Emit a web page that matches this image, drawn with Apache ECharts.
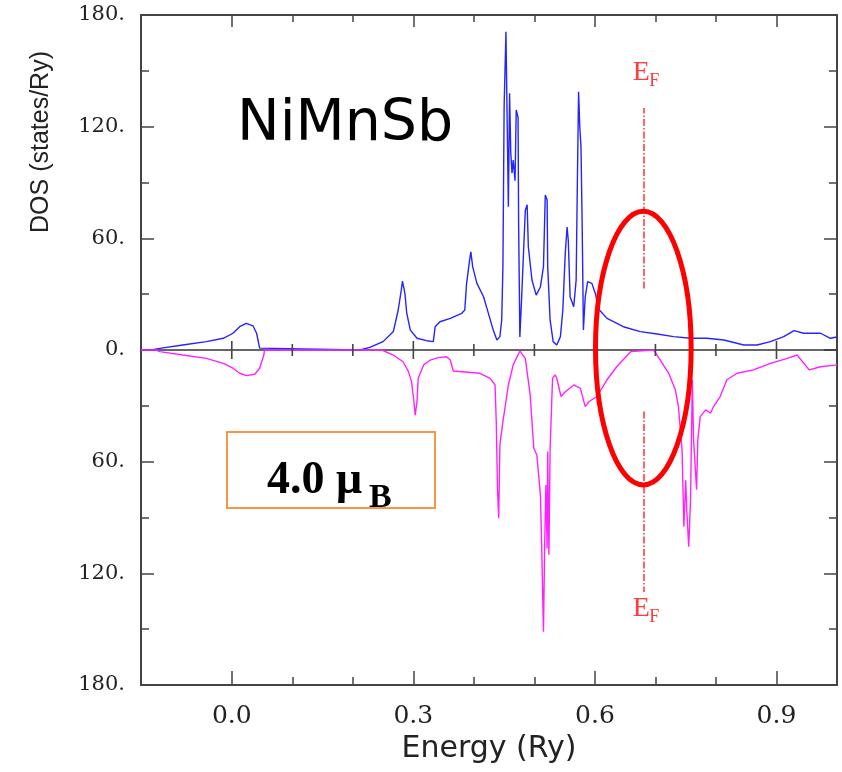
<!DOCTYPE html>
<html>
<head>
<meta charset="utf-8">
<script src="https://cdn.jsdelivr.net/npm/echarts@6/dist/echarts.min.js"></script>
<style>
html,body{margin:0;padding:0;background:#fff;}
#c{width:842px;height:772px;}
</style>
</head>
<body>
<div id="c"></div>
<script>
// ---- data ----
const energyUp = [-0.15,-0.133,-0.119,-0.081,-0.042,-0.014,0.002,0.013,0.024,0.035,0.041,0.046,0.049,0.212,0.228,0.25,0.267,0.275,0.280,0.282,0.286,0.289,0.295,0.306,0.322,0.333,0.336,0.344,0.361,0.380,0.385,0.388,0.393,0.395,0.398,0.405,0.416,0.424,0.432,0.438,0.443,0.446,0.448,0.450,0.453,0.455,0.457,0.459,0.461,0.463,0.465,0.468,0.470,0.473,0.474,0.476,0.479,0.482,0.485,0.488,0.490,0.496,0.503,0.510,0.515,0.518,0.521,0.522,0.526,0.531,0.537,0.543,0.547,0.551,0.554,0.556,0.559,0.565,0.569,0.571,0.573,0.575,0.577,0.579,0.581,0.584,0.588,0.595,0.601,0.606,0.62,0.647,0.675,0.703,0.730,0.758,0.785,0.813,0.846,0.868,0.89,0.912,0.929,0.945,0.973,0.989,1.0];
const dosUp = [0,0,0.9,2.7,4.5,6.3,9,12.5,14.3,13,9,1,0,0,1.4,4.5,10,21.5,32,37,30.6,20,10.7,6.3,5,4.5,12.5,15.2,17,19.7,21.5,35.8,48.4,52.8,44.8,35.8,28.6,19.7,10.7,5.4,7.2,16,44.8,130.7,171,123.6,77,138,105.7,95,102,91,129,125,66,7,28.6,52,75,78,55.5,37.6,29.5,34,44.8,83.3,80.6,44.8,16,4.5,2.7,7.2,21.5,52,66,59,28.6,23.3,37.6,89.6,138.8,120,109,66,10.7,28.6,36.7,35.8,30,22,17,12.5,9.9,8.6,7.2,6.3,6.3,5.4,2.7,2.7,4.5,7.2,10.4,9,9,6.3,7];
const energyDown = [-0.15,-0.125,-0.119,-0.081,-0.042,-0.014,0.002,0.013,0.024,0.038,0.046,0.053,0.054,0.248,0.267,0.283,0.292,0.297,0.301,0.303,0.306,0.308,0.317,0.328,0.341,0.355,0.361,0.366,0.41,0.427,0.435,0.437,0.439,0.441,0.443,0.448,0.457,0.465,0.476,0.479,0.485,0.493,0.499,0.504,0.510,0.512,0.515,0.517,0.519,0.521,0.522,0.524,0.526,0.530,0.534,0.537,0.544,0.551,0.565,0.576,0.584,0.59,0.603,0.62,0.636,0.659,0.662,0.697,0.708,0.722,0.733,0.738,0.744,0.747,0.750,0.752,0.755,0.758,0.761,0.763,0.768,0.770,0.774,0.783,0.791,0.796,0.807,0.818,0.835,0.862,0.890,0.918,0.934,0.954,0.973,1.0];
const dosDown = [0,0,-0.9,-2.7,-4.5,-7.2,-9.8,-12.5,-13.8,-13,-9.8,-2.7,0,0,-2.7,-6.3,-11.6,-17,-27.8,-35,-27.8,-15.2,-8,-5.4,-4.1,-3.6,-5.4,-11.3,-12.5,-15.2,-18.8,-38.5,-74.3,-90.4,-51,-38.5,-18.8,-8,-0.5,0,-4.5,-24,-52.8,-56.4,-78,-104.8,-151.4,-104.8,-72.5,-106.6,-54.6,-110,-52.8,-15.2,-13.4,-15.2,-25,-22.4,-18.8,-20.6,-30.4,-27.8,-25,-16,-9,-0.9,0,0,-5.4,-12.5,-21.5,-30.4,-53.7,-95,-70,-87.7,-105.7,-80.6,-16,-48.4,-75,-48.4,-35.8,-32.2,-34,-30.4,-25,-16,-12.5,-10.7,-7.2,-4.5,-2.7,-10.7,-9,-8];
const xMajorTicks = [0, 0.3, 0.6, 0.9];
const xMinorTicks = [0.1, 0.2, 0.4, 0.5, 0.7, 0.8];
const fermiEnergy = 0.68;
const fermiLineUp = [33, 130];
const fermiLineDown = [-33, -130];
const fermiLabelUp = 149;
const fermiLabelDown = -139;

const AX = '#444';
const chart = echarts.init(document.getElementById('c'), null, {renderer: 'canvas'});

function xAx(opts) {
  return Object.assign({
    type: 'value', min: -0.15, max: 1.0, gridIndex: 0,
    splitLine: {show: false},
    axisLine: {show: false, onZero: false},
    axisLabel: {show: false},
    axisTick: {show: false},
    minorTick: {show: false}
  }, opts);
}
const tickStyle = {color: AX, width: 1.5};

const option = {
  animation: false,
  backgroundColor: '#fff',
  grid: {left: 141, right: 5, top: 15, bottom: 87, containLabel: false, outerBoundsMode: 'none'},
  xAxis: [
    xAx({position: 'bottom',
      axisLine: {show: true, onZero: false, lineStyle: {color: AX, width: 2}},
      axisTick: {show: true, inside: true, length: 14, customValues: xMajorTicks.slice(), lineStyle: tickStyle},
      axisLabel: {show: true, customValues: xMajorTicks.slice(), margin: 19, color: '#222',
        fontFamily: 'DejaVu Serif', fontSize: 25, formatter: v => v.toFixed(1)},
      name: 'Energy (Ry)', nameLocation: 'middle', nameGap: 44,
      nameTextStyle: {fontFamily: 'DejaVu Sans', fontSize: 30, color: '#222'}
    }),
    xAx({position: 'bottom',
      axisTick: {show: true, inside: true, length: 8, customValues: xMinorTicks.slice(), lineStyle: tickStyle}}),
    xAx({position: 'top',
      axisLine: {show: true, onZero: false, lineStyle: {color: AX, width: 2}},
      axisTick: {show: true, inside: true, length: 12, customValues: xMajorTicks.slice(), lineStyle: tickStyle}}),
    xAx({position: 'top',
      axisTick: {show: true, inside: true, length: 7, customValues: xMinorTicks.slice(), lineStyle: tickStyle}})
  ],
  yAxis: [
    {type: 'value', position: 'left', min: -180, max: 180, interval: 60,
      splitLine: {show: false},
      axisLine: {show: true, onZero: false, lineStyle: {color: AX, width: 2}},
      axisTick: {show: true, inside: true, length: 13, lineStyle: tickStyle},
      minorTick: {show: true, splitNumber: 2, length: 8, lineStyle: tickStyle},
      axisLabel: {show: true, margin: 16, color: '#222', fontFamily: 'DejaVu Serif', fontSize: 21,
        formatter: v => Math.abs(v) + '.'}
    },
    {type: 'value', position: 'right', min: -180, max: 180, interval: 60,
      splitLine: {show: false},
      axisLine: {show: true, onZero: false, lineStyle: {color: AX, width: 2}},
      axisTick: {show: true, inside: true, length: 13, lineStyle: tickStyle},
      minorTick: {show: true, splitNumber: 2, length: 8, lineStyle: tickStyle},
      axisLabel: {show: false}
    }
  ],
  series: [
    {
      name: 'spin up', type: 'line', xAxisIndex: 0, yAxisIndex: 0,
      showSymbol: false, symbol: 'none',
      lineStyle: {color: '#2424ff', width: 1.4},
      data: energyUp.map((e, i) => [e, dosUp[i]]),
      z: 3
    },
    {
      name: 'spin down', type: 'line', xAxisIndex: 0, yAxisIndex: 0,
      showSymbol: false, symbol: 'none',
      lineStyle: {color: '#ff22ff', width: 1.4},
      data: energyDown.map((e, i) => [e, dosDown[i]]),
      z: 4,
      markLine: {
        silent: true, symbol: ['none', 'none'],
        label: {show: false},
        lineStyle: {color: '#ff3333', width: 1.5, type: [7, 2, 1.5, 2]},
        data: [
          [{coord: [fermiEnergy, fermiLineUp[0]]}, {coord: [fermiEnergy, fermiLineUp[1]]}],
          [{coord: [fermiEnergy, fermiLineDown[0]]}, {coord: [fermiEnergy, fermiLineDown[1]]}]
        ]
      },
      markPoint: {
        silent: true, symbol: 'rect', symbolSize: 1,
        itemStyle: {color: 'rgba(0,0,0,0)'},
        label: {show: true, position: 'inside', color: '#ff3b3b', fontFamily: 'Liberation Serif'},
        data: [
          {coord: [fermiEnergy, fermiLabelUp], label: {formatter: 'E', fontSize: 28, offset: [-2, 0]}},
          {coord: [fermiEnergy, fermiLabelUp], label: {formatter: 'F', fontSize: 18, offset: [11, 9]}},
          {coord: [fermiEnergy, fermiLabelDown], label: {formatter: 'E', fontSize: 28, offset: [-2, 0]}},
          {coord: [fermiEnergy, fermiLabelDown], label: {formatter: 'F', fontSize: 18, offset: [11, 9]}}
        ]
      }
    }
  ]
};
chart.setOption(option);

// annotations, anchored to the axes through convertToPixel
const toPx = p => chart.convertToPixel({xAxisIndex: 0, yAxisIndex: 0}, p);
const c = toPx([fermiEnergy, 1]);
const e1 = toPx([fermiEnergy + 0.079, 74.5]);
const z0a = toPx([-0.15, 0]);
const z0b = toPx([1.0, 0]);
const graphics = [
  {type: 'line', z: 1, silent: true,
    shape: {x1: z0a[0], y1: z0a[1], x2: z0b[0], y2: z0b[1]},
    style: {stroke: '#333', lineWidth: 1.6}}
];
xMajorTicks.forEach(v => {
  const p = toPx([v, 0]);
  graphics.push({type: 'line', z: 60, silent: true,
    shape: {x1: p[0], y1: p[1] - 9, x2: p[0], y2: p[1] + 9},
    style: {stroke: AX, lineWidth: 1.6}});
});
xMinorTicks.forEach(v => {
  const p = toPx([v, 0]);
  graphics.push({type: 'line', z: 60, silent: true,
    shape: {x1: p[0], y1: p[1] - 6, x2: p[0], y2: p[1] + 6},
    style: {stroke: AX, lineWidth: 1.6}});
});
graphics.push(
  {type: 'ellipse', z: 100, silent: true,
    shape: {cx: c[0], cy: c[1], rx: e1[0] - c[0], ry: c[1] - e1[1]},
    style: {fill: null, stroke: '#ff0000', lineWidth: 5}},
  {type: 'text', z: 50, left: 237, top: 97, silent: true,
    style: {text: 'NiMnSb', fontFamily: 'DejaVu Sans', fontSize: 57, fill: '#000'}},
  {type: 'text', z: 50, x: 41, y: 142, rotation: Math.PI / 2, silent: true,
    style: {text: 'DOS (states/Ry)', fontFamily: 'Liberation Sans', fontSize: 25, fill: '#222',
      align: 'center', verticalAlign: 'middle'}},
  {type: 'rect', z: 50, silent: true, shape: {x: 227, y: 432, width: 208, height: 76},
    style: {fill: '#fff', stroke: '#f79646', lineWidth: 2}},
  {type: 'text', z: 51, x: 267, y: 504, silent: true,
    style: {text: '4.0 μ', fontFamily: 'Liberation Serif', fontWeight: 'bold', fontSize: 46, fill: '#000',
      align: 'left', verticalAlign: 'bottom'}},
  {type: 'text', z: 51, x: 369, y: 515, silent: true,
    style: {text: 'B', fontFamily: 'Liberation Serif', fontWeight: 'bold', fontSize: 34, fill: '#000',
      align: 'left', verticalAlign: 'bottom'}}
);
chart.setOption({graphic: graphics});
</script>
</body>
</html>
